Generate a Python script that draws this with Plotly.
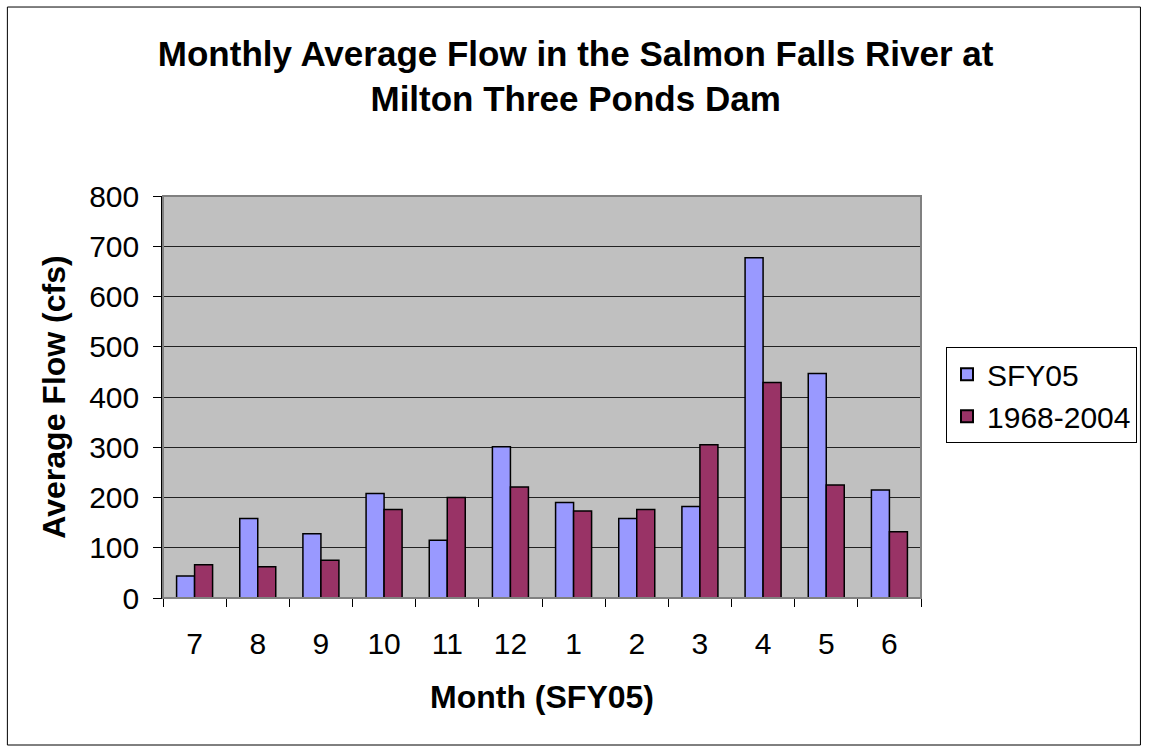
import plotly.graph_objects as go

months = ["7", "8", "9", "10", "11", "12", "1", "2", "3", "4", "5", "6"]
sfy05 = [44, 158, 128, 208, 115, 301, 190, 158, 182, 677, 447, 215]
hist_1968_2004 = [66, 62, 75, 176, 200, 221, 173, 176, 305, 429, 225, 132]
y_ticks = [0, 100, 200, 300, 400, 500, 600, 700, 800]

FONT = "Liberation Sans, Arial, sans-serif"

fig = go.Figure()
fig.add_trace(go.Bar(
    x=months, y=sfy05, name="SFY05",
    marker=dict(color="#9999FF", line=dict(color="black", width=1.5)),
))
fig.add_trace(go.Bar(
    x=months, y=hist_1968_2004, name="1968-2004",
    marker=dict(color="#993366", line=dict(color="black", width=1.5)),
))

fig.update_layout(
    width=1149, height=749,
    margin=dict(l=163, r=226, t=196, b=151),
    paper_bgcolor="white",
    plot_bgcolor="#C0C0C0",
    barmode="group",
    bargap=0.43,
    bargroupgap=0,
    font=dict(family=FONT, color="black"),
    title=dict(
        text="<b>Monthly Average Flow in the Salmon Falls River at<br>Milton Three Ponds Dam</b>",
        x=0.501, xanchor="center", xref="container",
        y=0.912, yanchor="top", yref="container",
        font=dict(size=35, family=FONT, color="black"),
    ),
    legend=dict(
        x=1.033, xanchor="left", y=0.624, yanchor="top",
        bgcolor="white", bordercolor="black", borderwidth=1,
        font=dict(size=30, family=FONT, color="black"),
        itemsizing="constant",
    ),
    xaxis=dict(
        type="category",
        title=dict(text="<b>Month (SFY05)</b>", font=dict(size=32, family=FONT), standoff=26),
        tickfont=dict(size=30, family=FONT),
        tickson="boundaries",
        ticks="outside", ticklen=8, tickcolor="black",
        ticklabelstandoff=19,
        showline=True, linecolor="black", linewidth=1,
        showgrid=False,
        mirror=False,
    ),
    yaxis=dict(
        range=[0, 800],
        tickvals=y_ticks,
        title=dict(text="<b>Average Flow (cfs)</b>", font=dict(size=32, family=FONT), standoff=14),
        tickfont=dict(size=30, family=FONT),
        ticks="outside", ticklen=8, tickcolor="black",
        ticklabelstandoff=8,
        showline=True, linecolor="black", linewidth=1.5,
        showgrid=True, gridcolor="#222222", gridwidth=1,
        zeroline=False,
    ),
    shapes=[
        dict(type="rect", xref="paper", yref="paper", x0=0, x1=1, y0=0, y1=1,
             line=dict(color="#808080", width=2), fillcolor="rgba(0,0,0,0)", layer="above"),
        dict(type="rect", xref="paper", yref="paper",
             x0=-0.2053, x1=1.2895, y0=-0.3657, y1=1.4701,
             line=dict(color="black", width=1), fillcolor="rgba(0,0,0,0)"),
    ],
)

fig.write_html("out.html", config={"displayModeBar": False},
               post_script="document.body.style.margin='0';")
